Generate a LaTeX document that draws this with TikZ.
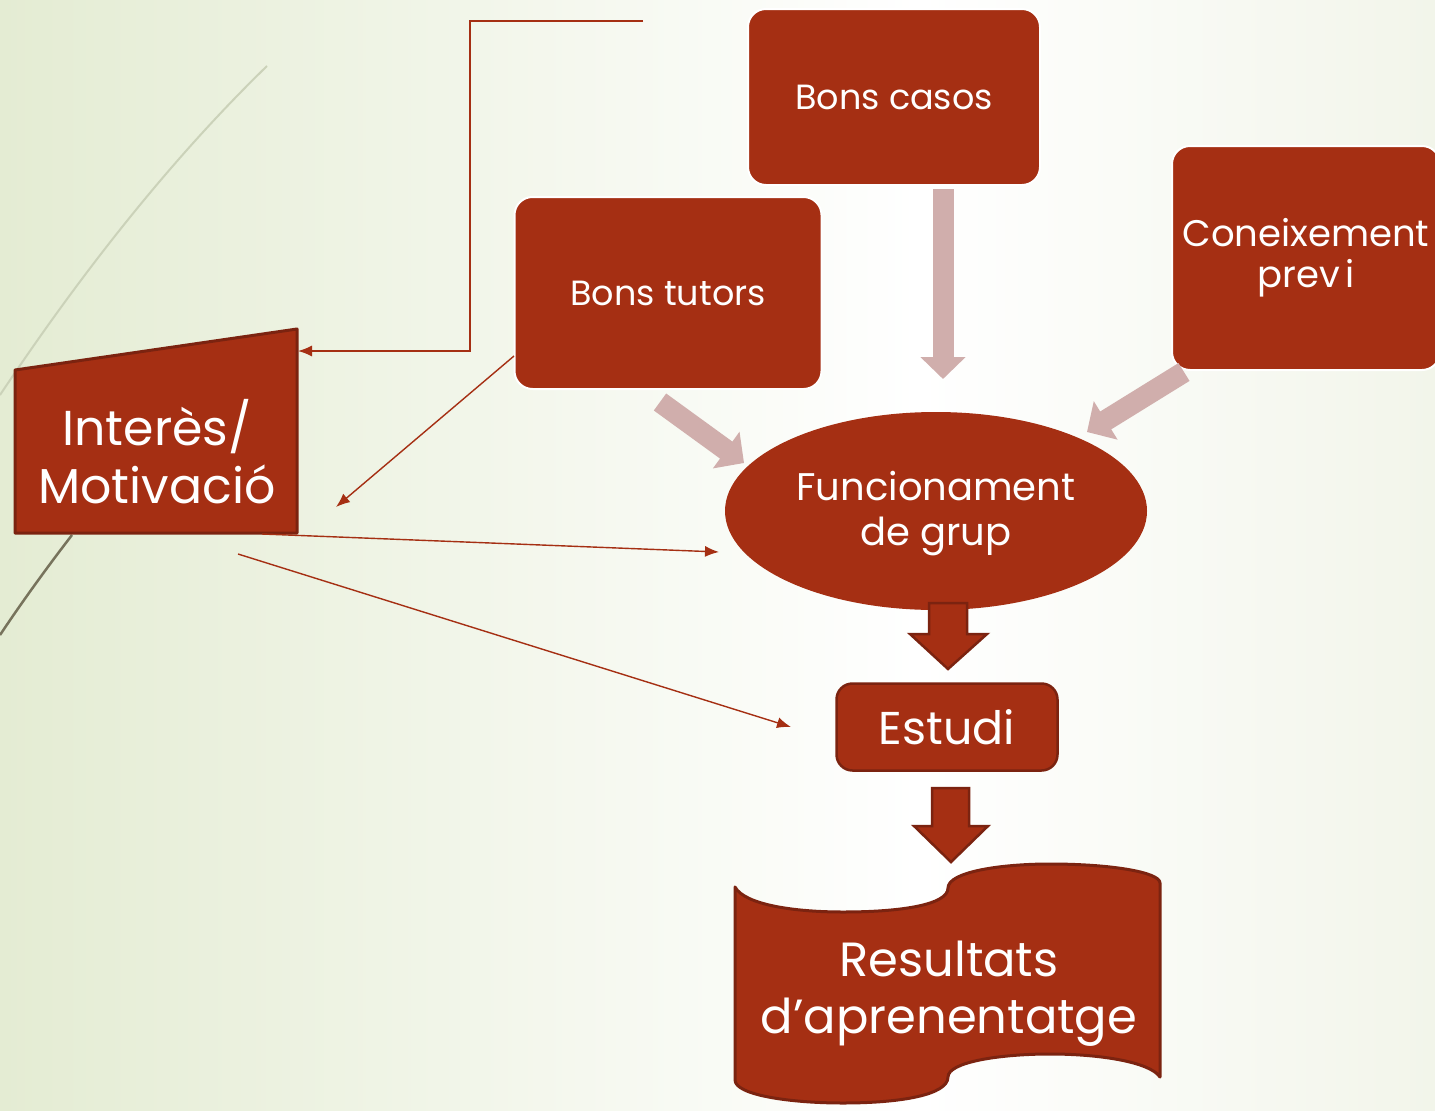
\documentclass[tikz,border=0pt]{standalone}
\usepackage{fontspec}
\setmainfont{Poppins}
\usetikzlibrary{shapes.geometric,arrows.meta,calc}
\definecolor{rust}{HTML}{A52F13}
\definecolor{rustdark}{HTML}{7B2310}
\definecolor{pale}{HTML}{D0AEAC}
\definecolor{bgA}{HTML}{E4ECD3}
\definecolor{bgB}{HTML}{F2F5EA}
\definecolor{arcLight}{HTML}{CBD2B9}
\definecolor{arcDark}{HTML}{77735C}
\pgfdeclarehorizontalshading{bgshade}{100bp}{color(0bp)=(bgA); color(25bp)=(bgA); color(57bp)=(white); color(75bp)=(bgB); color(100bp)=(bgB)}
\begin{document}
\begin{tikzpicture}[x=1pt,y=-1pt,
  box/.style={rectangle, rounded corners=18pt, fill=rust, draw=white, line width=2pt,
    text=white, align=center, inner sep=0pt},
  txt/.style={text=white, align=center, inner sep=0pt},
  thinarrow/.style={draw=rust, line width=1.4pt, -{Latex[length=14pt,width=11pt]}},
  palearrow/.style={draw=pale, line width=21pt, -{Triangle[length=22pt,width=44pt]}},
  blockarrow/.style={fill=rust, draw=rustdark, line width=2.5pt, line join=miter},
  shapeline/.style={fill=rust, draw=rustdark, line width=3pt, line join=round}]
\shade[shading=bgshade] (0,0) rectangle (1435,1111);
\useasboundingbox (0,0) rectangle (1435,1111);
% decorative arcs
\draw[arcLight, line width=2pt] (267,66) .. controls (160,170) and (70,290) .. (0,395);
\draw[arcDark, line width=2.5pt] (72,535) .. controls (45,570) and (20,605) .. (0,635);
% boxes
\node[box, minimum width=292pt, minimum height=176pt, font=\fontsize{35}{42}\selectfont] (casos) at (894,97) {Bons casos};
\node[box, minimum width=307pt, minimum height=192pt, font=\fontsize{35}{42}\selectfont] (tutors) at (668,293) {Bons tutors};
\node[box, minimum width=268pt, minimum height=224pt, font=\fontsize{37}{41}\selectfont] (coneix) at (1306,258) {Coneixement\\prev\kern5pt i};
\node[ellipse, fill=rust, minimum width=422pt, minimum height=198pt, inner sep=0pt] (func) at (936,511) {};
\node[txt, font=\fontsize{38.5}{45}\selectfont] (functxt) at (936,514) {Funcionament\\de grup};
% Interes / Motivacio
\draw[shapeline] (15,370) -- (297,329) -- (297,533) -- (15,533) -- cycle;
\node[txt, font=\fontsize{49}{58}\selectfont] (int) at (157,452) {Interès/\\Motivació};
% Estudi
\node[rectangle, rounded corners=16pt, fill=rust, draw=rustdark, line width=2.5pt, text=white,
  minimum width=221pt, minimum height=87pt, inner sep=0pt, font=\fontsize{46}{50}\selectfont] (estudi) at (947,727) {Estudi};
% Resultats (tape shape)
\draw[shapeline] (735,887) .. controls (745,905) and (795,912) .. (843,912)
  .. controls (900,912) and (948,905) .. (948,888)
  .. controls (948,872) and (1000,864) .. (1050,864)
  .. controls (1110,864) and (1160,872) .. (1160,883)
  -- (1160,1077)
  .. controls (1150,1062) and (1100,1054) .. (1050,1054)
  .. controls (1000,1054) and (948,1062) .. (948,1077)
  .. controls (948,1095) and (900,1103) .. (843,1103)
  .. controls (790,1103) and (735,1095) .. (735,1080) -- cycle;
\node[txt, font=\fontsize{48}{57}\selectfont] (res) at (949,994) {Resultats\\d’aprenentatge};
% block arrows
\draw[blockarrow] (929,603) -- (967,603) -- (967,634) -- (987,634) -- (948,669) -- (910,634) -- (929,634) -- cycle;
\draw[blockarrow] (932,788) -- (969,788) -- (969,826) -- (988,826) -- (951,862) -- (914,826) -- (932,826) -- cycle;
% pale arrows
\coordinate (casosOut) at (943,189);
\coordinate (funcTop) at (943,379);
\coordinate (tutorsOut) at (660,402);
\coordinate (funcTL) at (744,463);
\coordinate (coneixOut) at (1184,372);
\coordinate (funcTR) at (1087,432);
\draw[palearrow] (casosOut) -- (funcTop);
\draw[palearrow] (tutorsOut) -- (funcTL);
\draw[palearrow] (coneixOut) -- (funcTR);
% thin arrows
\coordinate (elbowStart) at (643,21);
\coordinate (intR) at (298,351);
\coordinate (tutorsL) at (514,356);
\coordinate (intNear) at (336,507);
\coordinate (intB) at (262,534);
\coordinate (funcL) at (719,552);
\coordinate (intB2) at (238,554);
\coordinate (estudiL) at (791,727);
\draw[thinarrow] (elbowStart) -- (470,21) -- (470,351) -- (intR);
\draw[thinarrow] (tutorsL) -- (intNear);
\draw[thinarrow] (intB) -- (funcL);
\draw[thinarrow] (intB2) -- (estudiL);
\end{tikzpicture}
\end{document}
